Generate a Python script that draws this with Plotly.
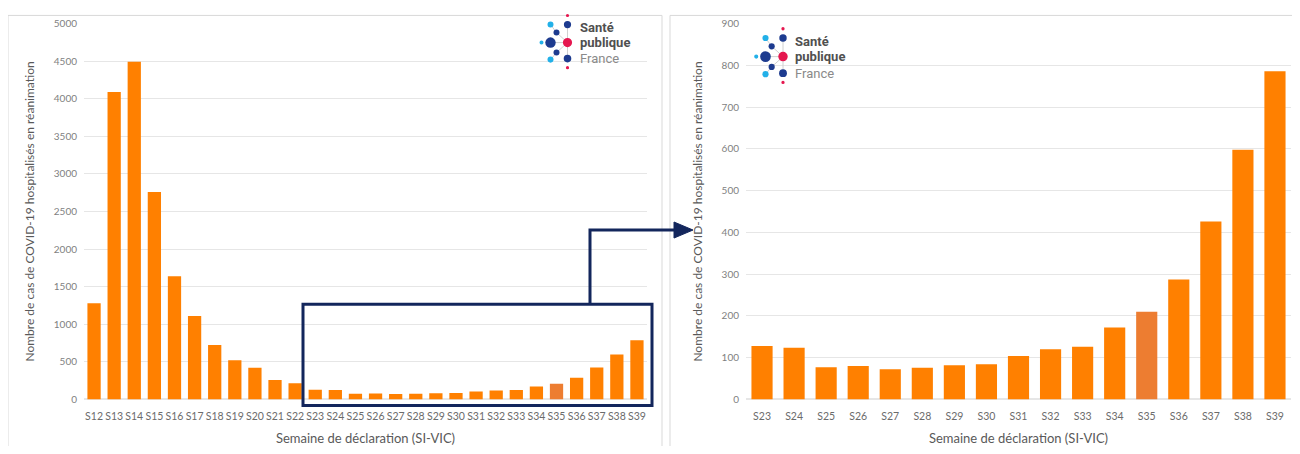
import plotly.graph_objects as go
from plotly.subplots import make_subplots

# weekly ICU admissions, full period
weeks_all = ["S%d" % i for i in range(12, 40)]
cases_all = [1280, 4090, 4490, 2760, 1640, 1110, 725, 520, 420, 260, 215,
             128, 124, 77, 80, 72, 76, 82, 84, 104, 120, 126, 172, 210, 287, 426, 598, 786]

# zoom on S23-S39
weeks_zoom = ["S%d" % i for i in range(23, 40)]
cases_zoom = [128, 124, 77, 80, 72, 76, 82, 84, 104, 120, 126, 172, 210, 287, 426, 598, 786]

partial_week = "S35"
ORANGE = "#FF8000"
ORANGE_PARTIAL = "#ED7D31"
NAVY = "#13265C"

# page offsets / vertical squeeze of the snapshot (measured)
OFFX, OFFY, SY = 8, 16, 0.968
W, H = 1284, 438


def px(x):
    return (x - OFFX) / W


def py(y):
    return 1 - (y / SY - OFFY) / H


def colors(weeks):
    return [ORANGE_PARTIAL if w == partial_week else ORANGE for w in weeks]


fig = make_subplots(rows=1, cols=2)
fig.add_trace(go.Bar(x=weeks_all, y=cases_all, marker_color=colors(weeks_all),
                     marker_line_width=0), 1, 1)
fig.add_trace(go.Bar(x=weeks_zoom, y=cases_zoom, marker_color=colors(weeks_zoom),
                     marker_line_width=0), 1, 2)

ydom = [py(399), py(24)]
axis_font = dict(family="Lato", size=10, color="#7F7F7F")
xfont = dict(family="Lato", size=10.5, color="#6b6b6b")
title_font = dict(family="Lato", size=13, color="#595959")
ytitle_font = dict(family="Lato", size=12, color="#595959")

fig.update_layout(
    width=W, height=H, margin=dict(l=0, r=0, t=0, b=0),
    paper_bgcolor="white", plot_bgcolor="white",
    showlegend=False, bargap=0.34,
    xaxis=dict(domain=[px(84), px(647)], tickangle=0, dtick=1, tickfont=xfont,
               showgrid=False, showline=False, ticks="", ticklabelstandoff=9,
               title=dict(text="Semaine de déclaration (SI-VIC)", font=title_font, standoff=12)),
    xaxis2=dict(domain=[px(746), px(1291)], tickangle=0, dtick=1, tickfont=xfont,
                showgrid=False, showline=False, ticks="", ticklabelstandoff=9,
                title=dict(text="Semaine de déclaration (SI-VIC)", font=title_font, standoff=12)),
    yaxis=dict(domain=ydom, range=[0, 5000], dtick=500, tickfont=axis_font,
               gridcolor="#E6E6E6", zeroline=True, zerolinecolor="#E6E6E6",
               ticklabelstandoff=6,
               title=dict(text="Nombre de cas de COVID-19 hospitalisés en réanimation",
                          font=ytitle_font, standoff=16)),
    yaxis2=dict(domain=ydom, range=[0, 900], dtick=100, tickfont=axis_font,
                gridcolor="#E6E6E6", zeroline=True, zerolinecolor="#E6E6E6",
                ticklabelstandoff=6,
                title=dict(text="Nombre de cas de COVID-19 hospitalisés en réanimation",
                           font=ytitle_font, standoff=16)),
)

shapes = []
# panel frames
for x0, x1 in [(8, 662), (670, 1310)]:
    shapes.append(dict(type="rect", xref="paper", yref="paper",
                       x0=px(x0), x1=px(x1), y0=-0.1, y1=0.999,
                       line=dict(color="#D9D9D9", width=1), layer="below"))

# highlight box + connector arrow
shapes.append(dict(type="rect", xref="paper", yref="paper",
                   x0=px(303), x1=px(652), y0=py(405), y1=py(304),
                   line=dict(color=NAVY, width=3)))
shapes.append(dict(type="path", xref="paper", yref="paper",
                   path="M %f %f L %f %f L %f %f" % (px(590), py(304), px(590), py(230),
                                                     px(676), py(230)),
                   line=dict(color=NAVY, width=3)))
shapes.append(dict(type="path", xref="paper", yref="paper",
                   path="M %f %f L %f %f L %f %f Z" % (px(674), py(222), px(693), py(230),
                                                       px(674), py(238)),
                   fillcolor=NAVY, line=dict(color=NAVY, width=1)))

# logo: Santé publique France
DB, LB, PK = "#1D3B8F", "#22B0E8", "#E5174F"
logo_dots = [(0, -27, 1.6, PK), (0, -18, 3.6, DB), (-17, -18, 3.0, LB), (-11, -10, 3.0, DB),
             (-17, 0, 5.2, DB), (-26, 0, 2.0, LB), (0, 0, 4.6, PK), (-11, 10, 3.0, DB),
             (0, 16, 3.8, DB), (-17, 17, 3.0, LB), (0, 25, 1.6, PK)]
logo_lines = [((0, -18), (0, 16)), ((-17, 0), (0, 0)), ((-11, -10), (0, 0)),
              ((-11, 10), (0, 0)), ((-17, -18), (-11, -10)), ((-17, 17), (-11, 10))]


def add_logo(cx, cy, s):
    for (a, b), (c, d) in logo_lines:
        shapes.append(dict(type="line", xref="paper", yref="paper",
                           x0=px(cx + a * s), y0=py(cy + b * s), x1=px(cx + c * s), y1=py(cy + d * s),
                           line=dict(color="#D0D0D0", width=1)))
    for dx, dy, r, col in logo_dots:
        r = r * s
        shapes.append(dict(type="circle", xref="paper", yref="paper",
                           x0=px(cx + dx * s - r), x1=px(cx + dx * s + r),
                           y0=py(cy + dy * s + r), y1=py(cy + dy * s - r),
                           fillcolor=col, line=dict(width=0)))
    for txt, dy, bold, col in [("Santé", -15, True, "#505050"), ("publique", 0, True, "#505050"),
                               ("France", 16, False, "#8a8a8a")]:
        fig.add_annotation(xref="paper", yref="paper", x=px(cx + 10 * s), y=py(cy + dy * s),
                           text="<b>%s</b>" % txt if bold else txt, showarrow=False,
                           xanchor="left", yanchor="middle",
                           font=dict(family="Roboto", size=13, color=col))


add_logo(567.5, 43, 1.0)
add_logo(783, 57, 1.03)

fig.update_layout(shapes=shapes)
fig.write_html("out.html")
